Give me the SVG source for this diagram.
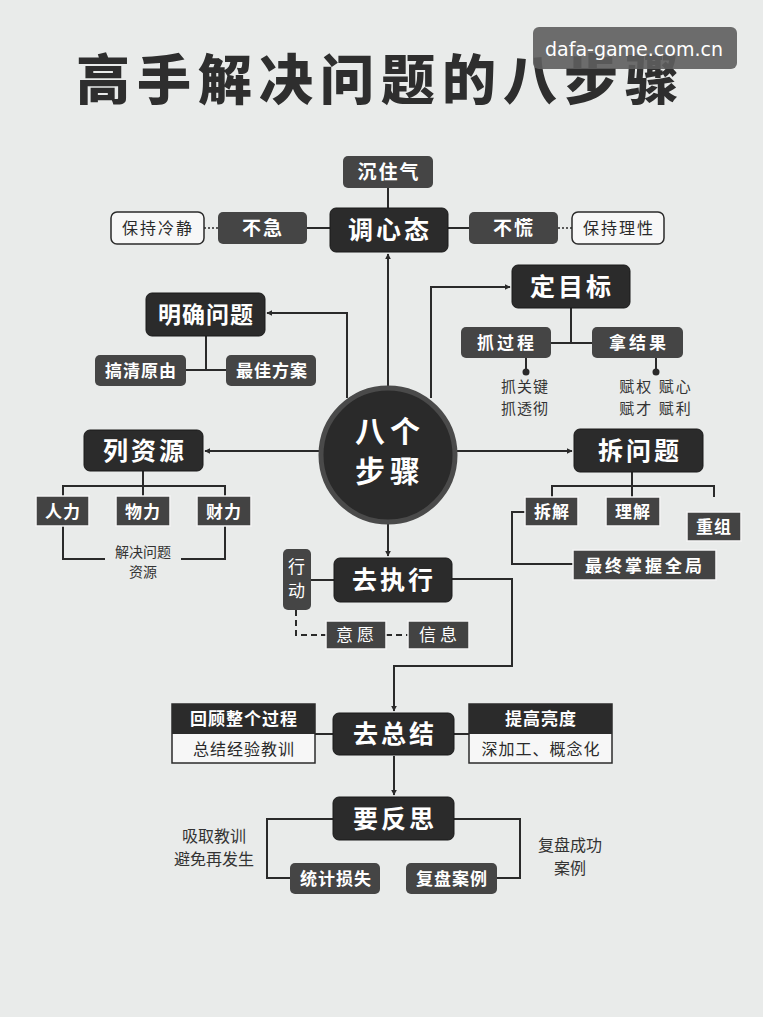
<svg xmlns="http://www.w3.org/2000/svg" width="763" height="1017" viewBox="0 0 763 1017">
<defs>
<marker id="ah" viewBox="0 0 10 10" refX="9" refY="5" markerWidth="6" markerHeight="6" orient="auto" markerUnits="userSpaceOnUse">
<path d="M0,0 L10,5 L0,10 z" fill="#2a2a2a"/>
</marker>
<style>
.bg{fill:#e9ebea}
.main{fill:#2b2b2b;stroke:#1a1a1a;stroke-width:1}
.sec{fill:#454545}
.sq{fill:#434343;stroke:#f4f4f4;stroke-width:1.5}
.wbox{fill:#f7f7f7;stroke:#2b2b2b;stroke-width:1.5}
.ln{fill:none;stroke:#2a2a2a;stroke-width:2}
.dot{fill:none;stroke:#2a2a2a;stroke-width:1.5;stroke-dasharray:2 2}
.dash{fill:none;stroke:#2a2a2a;stroke-width:2;stroke-dasharray:6 4}
text{font-family:"Noto Sans CJK SC","Noto Sans",sans-serif;text-anchor:middle}
.tm{fill:#fff;font-size:25px;font-weight:bold;letter-spacing:3px}
.ts{fill:#fff;font-size:19px;font-weight:bold;letter-spacing:2px}
.tsm{fill:#fff;font-size:17px;font-weight:bold;letter-spacing:1px}
.td{fill:#2a2a2a;font-size:16px;letter-spacing:2px}
.tn{fill:#333;font-size:15px;letter-spacing:1px}
</style>
</defs>
<rect class="bg" x="0" y="0" width="763" height="1017"/>

<g id="title">
<text x="381" y="100" style="font-size:54px;font-weight:900;fill:#2e2e2e;letter-spacing:7px">高手解决问题的八步骤</text>
</g>
<g id="watermark">
<rect x="533" y="27" width="204" height="42" rx="6" fill="#5e5e5e" opacity="0.9"/>
<text x="634" y="56" style="font-family:'DejaVu Sans','Noto Sans',sans-serif;font-size:19px;fill:#fff">dafa-game.com.cn</text>
</g>

<g id="connectors">
<line class="ln" x1="388" y1="188" x2="388" y2="208"/>
<line class="ln" x1="307" y1="228" x2="330" y2="228"/>
<line class="ln" x1="448" y1="228" x2="469" y2="228"/>
<line class="dot" x1="204" y1="228" x2="218" y2="228"/>
<line class="dot" x1="558" y1="228" x2="572" y2="228"/>
<line class="ln" x1="388" y1="388" x2="388" y2="254" marker-end="url(#ah)"/>
<polyline class="ln" points="347,398 347,313 267,313" marker-end="url(#ah)"/>
<line class="ln" x1="206" y1="336" x2="206" y2="370"/>
<line class="ln" x1="186" y1="370" x2="226" y2="370"/>
<polyline class="ln" points="431,398 431,287 510,287" marker-end="url(#ah)"/>
<line class="ln" x1="571" y1="308" x2="571" y2="343"/>
<line class="ln" x1="551" y1="343" x2="592" y2="343"/>
<line class="ln" x1="526" y1="358" x2="526" y2="371"/>
<circle cx="526" cy="372" r="3.5" fill="#2a2a2a"/>
<line class="ln" x1="656" y1="358" x2="656" y2="371"/>
<circle cx="656" cy="372" r="3.5" fill="#2a2a2a"/>
<line class="ln" x1="322" y1="451" x2="205" y2="451" marker-end="url(#ah)"/>
<line class="ln" x1="143" y1="471" x2="143" y2="486"/>
<polyline class="ln" points="63,496 63,486 225,486 225,496"/>
<line class="ln" x1="143" y1="486" x2="143" y2="496"/>
<polyline class="ln" points="63,526 63,559 105,559"/>
<polyline class="ln" points="181,559 225,559 225,526"/>
<line class="ln" x1="455" y1="451" x2="572" y2="451" marker-end="url(#ah)"/>
<line class="ln" x1="632" y1="472" x2="632" y2="497"/>
<polyline class="ln" points="552,497 552,486 714,486 714,497"/>
<polyline class="ln" points="525,512 512,512 512,564 573,564"/>
<line class="ln" x1="388" y1="523" x2="388" y2="556" marker-end="url(#ah)"/>
<line class="ln" x1="311" y1="580" x2="334" y2="580"/>
<polyline class="dash" points="296,610 296,635 326,635"/>
<line class="dash" x1="386" y1="635" x2="408" y2="635"/>
<polyline class="ln" points="452,579 512,579 512,666 394,666 394,711" marker-end="url(#ah)"/>
<line class="ln" x1="315" y1="734" x2="333" y2="734"/>
<line class="ln" x1="454" y1="734" x2="469" y2="734"/>
<line class="ln" x1="394" y1="756" x2="394" y2="795" marker-end="url(#ah)"/>
<polyline class="ln" points="333,819 267,819 267,878 290,878"/>
<polyline class="ln" points="454,819 520,819 520,878 497,878"/>
</g>

<g id="n-tiaoxintai"><rect class="main" x="330" y="208" width="118" height="44" rx="6"/><text class="tm" x="390" y="239">调心态</text></g>
<g id="n-chenzhuqi"><rect class="sec" x="343" y="156" width="90" height="32" rx="5"/><text class="ts" x="389" y="179">沉住气</text></g>
<g id="n-buji"><rect class="sec" x="218" y="212" width="89" height="32" rx="5"/><text class="ts" x="263" y="235">不急</text></g>
<g id="n-buhuang"><rect class="sec" x="469" y="212" width="89" height="32" rx="5"/><text class="ts" x="514" y="235">不慌</text></g>
<g id="n-baochilengjing"><rect class="wbox" x="111" y="212" width="93" height="32" rx="6"/><text class="td" x="158" y="234">保持冷静</text></g>
<g id="n-baochilixing"><rect class="wbox" x="572" y="212" width="92" height="32" rx="6"/><text class="td" x="619" y="234">保持理性</text></g>

<g id="n-center">
<circle cx="388" cy="455" r="67" fill="#2a2a2a" stroke="#4a4a4a" stroke-width="5"/>
<text x="390" y="442" style="fill:#fff;font-size:30px;font-weight:bold;letter-spacing:5px">八个</text>
<text x="390" y="482" style="fill:#fff;font-size:30px;font-weight:bold;letter-spacing:5px">步骤</text>
</g>

<g id="n-mingque"><rect class="main" x="146" y="293" width="119" height="43" rx="6"/><text class="tm" x="206" y="323" style="font-size:23px;letter-spacing:1px">明确问题</text></g>
<g id="n-gaoqing"><rect class="sec" x="95" y="355" width="91" height="31" rx="5"/><text class="tsm" x="141" y="377">搞清原由</text></g>
<g id="n-zuijia"><rect class="sec" x="226" y="355" width="90" height="31" rx="5"/><text class="tsm" x="272" y="377">最佳方案</text></g>

<g id="n-dingmubiao"><rect class="main" x="512" y="265" width="118" height="43" rx="6"/><text class="tm" x="572" y="296">定目标</text></g>
<g id="n-zhuaguocheng"><rect class="sec" x="461" y="327" width="90" height="31" rx="5"/><text class="tsm" x="507" y="349" style="letter-spacing:3px">抓过程</text></g>
<g id="n-najieguo"><rect class="sec" x="592" y="327" width="91" height="31" rx="5"/><text class="tsm" x="639" y="349" style="letter-spacing:3px">拿结果</text></g>
<g id="t-zhua"><text class="tn" x="525" y="392">抓关键</text><text class="tn" x="525" y="414">抓透彻</text></g>
<g id="t-fu"><text class="tn" x="656" y="392" style="letter-spacing:2px">赋权 赋心</text><text class="tn" x="656" y="414" style="letter-spacing:2px">赋才 赋利</text></g>

<g id="n-liziyuan"><rect class="main" x="84" y="430" width="119" height="41" rx="6"/><text class="tm" x="145" y="460">列资源</text></g>
<g id="n-renli"><rect class="sq" x="36" y="496" width="53" height="30"/><text class="tsm" x="63" y="518">人力</text></g>
<g id="n-wuli"><rect class="sq" x="116" y="496" width="54" height="30"/><text class="tsm" x="143" y="518">物力</text></g>
<g id="n-caili"><rect class="sq" x="197" y="496" width="54" height="30"/><text class="tsm" x="224" y="518">财力</text></g>
<g id="t-jiejue"><text class="tn" x="143" y="557" style="letter-spacing:0;font-size:14px">解决问题</text><text class="tn" x="143" y="577" style="letter-spacing:0;font-size:14px">资源</text></g>

<g id="n-chaiwenti"><rect class="main" x="574" y="429" width="129" height="43" rx="6"/><text class="tm" x="640" y="460">拆问题</text></g>
<g id="n-chaijie"><rect class="sq" x="525" y="497" width="53" height="29"/><text class="tsm" x="552" y="518">拆解</text></g>
<g id="n-lijie"><rect class="sq" x="606" y="497" width="54" height="29"/><text class="tsm" x="633" y="518">理解</text></g>
<g id="n-chongzu"><rect class="sq" x="687" y="512" width="54" height="29"/><text class="tsm" x="714" y="533">重组</text></g>
<g id="n-zuizhong"><rect class="sq" x="573" y="550" width="143" height="30"/><text class="tsm" x="645" y="572" style="letter-spacing:3px">最终掌握全局</text></g>

<g id="n-quzhixing"><rect class="main" x="334" y="558" width="118" height="44" rx="6"/><text class="tm" x="394" y="589">去执行</text></g>
<g id="n-xingdong"><rect class="sec" x="283" y="549" width="28" height="61" rx="5"/><text class="tsm" x="297" y="573" style="font-weight:normal">行</text><text class="tsm" x="297" y="597" style="font-weight:normal">动</text></g>
<g id="n-yiyuan"><rect class="sq" x="326" y="621" width="60" height="28"/><text class="tsm" x="357" y="641" style="font-weight:normal;letter-spacing:4px">意愿</text></g>
<g id="n-xinxi"><rect class="sq" x="408" y="621" width="61" height="28"/><text class="tsm" x="440" y="641" style="font-weight:normal;letter-spacing:4px">信息</text></g>

<g id="n-quzongjie"><rect class="main" x="333" y="713" width="121" height="42" rx="6"/><text class="tm" x="395" y="743">去总结</text></g>
<g id="n-huigu"><rect x="172" y="704" width="143" height="59" fill="#f7f7f7" stroke="#2b2b2b" stroke-width="1.5"/><rect x="172" y="704" width="143" height="30" fill="#2b2b2b"/><text class="tsm" x="244" y="725">回顾整个过程</text><text class="td" x="244" y="755" style="letter-spacing:1px">总结经验教训</text></g>
<g id="n-tigao"><rect x="469" y="704" width="143" height="59" fill="#f7f7f7" stroke="#2b2b2b" stroke-width="1.5"/><rect x="469" y="704" width="143" height="30" fill="#2b2b2b"/><text class="tsm" x="541" y="725">提高亮度</text><text class="td" x="541" y="755" style="letter-spacing:1px">深加工、概念化</text></g>

<g id="n-yaofansi"><rect class="main" x="333" y="797" width="121" height="43" rx="6"/><text class="tm" x="395" y="828">要反思</text></g>
<g id="n-tongji"><rect class="sec" x="290" y="863" width="90" height="31" rx="5"/><text class="tsm" x="336" y="885">统计损失</text></g>
<g id="n-fupan"><rect class="sec" x="406" y="863" width="91" height="31" rx="5"/><text class="tsm" x="452" y="885">复盘案例</text></g>
<g id="t-xiqu"><text class="tn" x="214" y="842" style="letter-spacing:0;font-size:16px">吸取教训</text><text class="tn" x="214" y="865" style="letter-spacing:0;font-size:16px">避免再发生</text></g>
<g id="t-fupan"><text class="tn" x="570" y="851" style="letter-spacing:0;font-size:16px">复盘成功</text><text class="tn" x="570" y="874" style="letter-spacing:0;font-size:16px">案例</text></g>
</svg>
